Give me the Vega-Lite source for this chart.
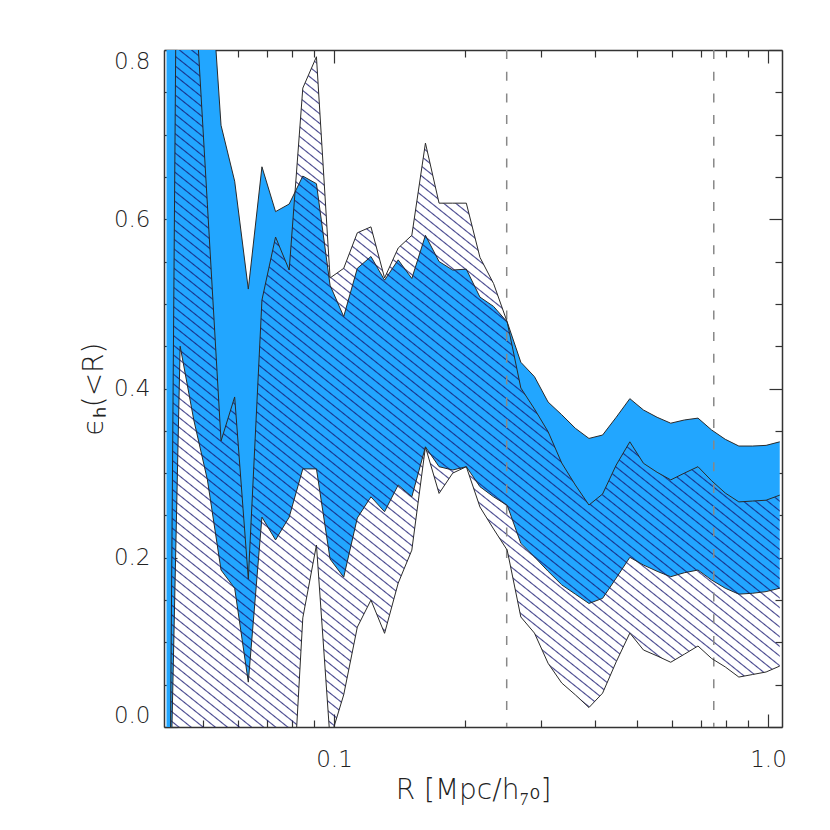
{
  "$schema": "https://vega.github.io/schema/vega-lite/v6.json",
  "width": 618,
  "height": 677,
  "autosize": {"type": "none"},
  "padding": {"left": 164, "top": 50, "right": 48, "bottom": 103},
  "background": "white",
  "config": {
    "view": {"stroke": null},
    "axis": {
      "grid": false,
      "domainColor": "#333333",
      "domainWidth": 1.5,
      "tickColor": "#333333",
      "tickWidth": 1.2,
      "labelFont": "DejaVu Sans",
      "labelFontSize": 23,
      "labelFontWeight": 200,
      "labelColor": "#222222",
      "titleFont": "DejaVu Sans",
      "titleFontSize": 28,
      "titleFontWeight": 200,
      "titleColor": "#222222",
      "zindex": 0
    }
  },
  "datasets": {
    "blue": [
      {"R": 0.04112, "lo": -0.30, "hi": 1.0},
      {"R": 0.04421, "lo": 0.450, "hi": 1.0},
      {"R": 0.04752, "lo": 0.363, "hi": 1.0},
      {"R": 0.05109, "lo": 0.292, "hi": 0.95},
      {"R": 0.05492, "lo": 0.1855, "hi": 0.711},
      {"R": 0.05904, "lo": 0.164, "hi": 0.645},
      {"R": 0.06347, "lo": 0.053, "hi": 0.5175},
      {"R": 0.06823, "lo": 0.248, "hi": 0.662},
      {"R": 0.07334, "lo": 0.221, "hi": 0.609},
      {"R": 0.07884, "lo": 0.248, "hi": 0.618},
      {"R": 0.08475, "lo": 0.305, "hi": 0.651},
      {"R": 0.09111, "lo": 0.305, "hi": 0.642},
      {"R": 0.09794, "lo": 0.1985, "hi": 0.522},
      {"R": 0.10528, "lo": 0.177, "hi": 0.485},
      {"R": 0.11317, "lo": 0.247, "hi": 0.542},
      {"R": 0.12166, "lo": 0.272, "hi": 0.556},
      {"R": 0.13078, "lo": 0.2544, "hi": 0.528},
      {"R": 0.14058, "lo": 0.286, "hi": 0.552},
      {"R": 0.15112, "lo": 0.272, "hi": 0.530},
      {"R": 0.16245, "lo": 0.331, "hi": 0.581},
      {"R": 0.17463, "lo": 0.3076, "hi": 0.550},
      {"R": 0.18772, "lo": 0.3037, "hi": 0.540},
      {"R": 0.20179, "lo": 0.3076, "hi": 0.541},
      {"R": 0.21692, "lo": 0.284, "hi": 0.508},
      {"R": 0.23318, "lo": 0.272, "hi": 0.497},
      {"R": 0.25066, "lo": 0.262, "hi": 0.4786},
      {"R": 0.26946, "lo": 0.217, "hi": 0.431},
      {"R": 0.28966, "lo": 0.201, "hi": 0.414},
      {"R": 0.31137, "lo": 0.184, "hi": 0.384},
      {"R": 0.33472, "lo": 0.168, "hi": 0.369},
      {"R": 0.35981, "lo": 0.157, "hi": 0.353},
      {"R": 0.38679, "lo": 0.146, "hi": 0.341},
      {"R": 0.41579, "lo": 0.152, "hi": 0.345},
      {"R": 0.44696, "lo": 0.176, "hi": 0.366},
      {"R": 0.48047, "lo": 0.2005, "hi": 0.388},
      {"R": 0.51649, "lo": 0.1914, "hi": 0.3746},
      {"R": 0.55521, "lo": 0.184, "hi": 0.366},
      {"R": 0.59684, "lo": 0.1776, "hi": 0.359},
      {"R": 0.64159, "lo": 0.1823, "hi": 0.3628},
      {"R": 0.68969, "lo": 0.1855, "hi": 0.365},
      {"R": 0.74140, "lo": 0.1737, "hi": 0.351},
      {"R": 0.79698, "lo": 0.164, "hi": 0.340},
      {"R": 0.85673, "lo": 0.157, "hi": 0.332},
      {"R": 0.92096, "lo": 0.158, "hi": 0.332},
      {"R": 0.99001, "lo": 0.160, "hi": 0.3328},
      {"R": 1.06423, "lo": 0.164, "hi": 0.337}
    ],
    "hatch": [
      {"R": 0.04200, "lo": -0.05, "hi": -0.01},
      {"R": 0.04325, "lo": -0.1, "hi": 0.85},
      {"R": 0.04421, "lo": -0.1, "hi": 0.90},
      {"R": 0.04752, "lo": -0.1, "hi": 0.895},
      {"R": 0.05109, "lo": -0.1, "hi": 0.617},
      {"R": 0.05492, "lo": -0.1, "hi": 0.338},
      {"R": 0.05904, "lo": -0.1, "hi": 0.390},
      {"R": 0.06347, "lo": -0.1, "hi": 0.175},
      {"R": 0.06823, "lo": -0.1, "hi": 0.5046},
      {"R": 0.07334, "lo": -0.1, "hi": 0.579},
      {"R": 0.07884, "lo": -0.158, "hi": 0.540},
      {"R": 0.08475, "lo": 0.129, "hi": 0.755},
      {"R": 0.09111, "lo": 0.215, "hi": 0.792},
      {"R": 0.09794, "lo": -0.015, "hi": 0.5306},
      {"R": 0.10528, "lo": 0.038, "hi": 0.542},
      {"R": 0.11317, "lo": 0.118, "hi": 0.584},
      {"R": 0.12166, "lo": 0.150, "hi": 0.591},
      {"R": 0.13078, "lo": 0.1107, "hi": 0.5306},
      {"R": 0.14058, "lo": 0.170, "hi": 0.566},
      {"R": 0.15112, "lo": 0.209, "hi": 0.581},
      {"R": 0.16245, "lo": 0.331, "hi": 0.690},
      {"R": 0.17463, "lo": 0.276, "hi": 0.619},
      {"R": 0.18772, "lo": 0.300, "hi": 0.619},
      {"R": 0.20179, "lo": 0.3076, "hi": 0.619},
      {"R": 0.21692, "lo": 0.260, "hi": 0.555},
      {"R": 0.23318, "lo": 0.234, "hi": 0.524},
      {"R": 0.25066, "lo": 0.209, "hi": 0.4786},
      {"R": 0.26946, "lo": 0.130, "hi": 0.4006},
      {"R": 0.28966, "lo": 0.111, "hi": 0.3758},
      {"R": 0.31137, "lo": 0.0753, "hi": 0.349},
      {"R": 0.33472, "lo": 0.052, "hi": 0.312},
      {"R": 0.35981, "lo": 0.038, "hi": 0.286},
      {"R": 0.38679, "lo": 0.023, "hi": 0.2623},
      {"R": 0.41579, "lo": 0.040, "hi": 0.2753},
      {"R": 0.44696, "lo": 0.077, "hi": 0.3096},
      {"R": 0.48047, "lo": 0.111, "hi": 0.337},
      {"R": 0.51649, "lo": 0.091, "hi": 0.3116},
      {"R": 0.55521, "lo": 0.084, "hi": 0.301},
      {"R": 0.59684, "lo": 0.0765, "hi": 0.292},
      {"R": 0.64159, "lo": 0.086, "hi": 0.300},
      {"R": 0.68969, "lo": 0.0957, "hi": 0.3076},
      {"R": 0.74140, "lo": 0.081, "hi": 0.291},
      {"R": 0.79698, "lo": 0.071, "hi": 0.2765},
      {"R": 0.85673, "lo": 0.059, "hi": 0.266},
      {"R": 0.92096, "lo": 0.062, "hi": 0.267},
      {"R": 0.99001, "lo": 0.065, "hi": 0.268},
      {"R": 1.06423, "lo": 0.072, "hi": 0.274}
    ],
    "dash": [{"R": 0.25}, {"R": 0.75}]
  },
  "layer": [
    {
      "data": {"name": "blue"},
      "mark": {"type": "area", "color": "#22a6ff", "opacity": 1, "clip": true},
      "encoding": {
        "x": {
          "field": "R", "type": "quantitative",
          "scale": {"type": "log", "domain": [0.04058, 1.0771], "nice": false},
          "axis": {
            "orient": "bottom",
            "values": [0.05, 0.06, 0.07, 0.08, 0.09, 0.1, 0.2, 0.3, 0.4, 0.5, 0.6, 0.7, 0.8, 0.9, 1],
            "labelExpr": "datum.value == 0.1 ? '0.1' : (datum.value == 1 ? '1.0' : '')",
            "tickSize": {"condition": {"test": "datum.value == 0.1 || datum.value == 1", "value": -13}, "value": -7},
            "labelPadding": 34,
            "labelFlush": false,
            "labelOverlap": false,
            "labelBound": false,
            "title": "R [Mpc/h₇₀]",
            "titlePadding": -1
          }
        },
        "y": {
          "field": "hi", "type": "quantitative",
          "scale": {"domain": [0, 0.8], "nice": false, "zero": false},
          "axis": {
            "orient": "left",
            "values": [0, 0.05, 0.1, 0.15, 0.2, 0.25, 0.3, 0.35, 0.4, 0.45, 0.5, 0.55, 0.6, 0.65, 0.7, 0.75, 0.8],
            "labelExpr": "indexof([0, 0.2, 0.4, 0.6, 0.8], datum.value) >= 0 ? format(datum.value, '.1f') : ''",
            "tickSize": {"condition": {"test": "indexof([0, 0.2, 0.4, 0.6, 0.8], datum.value) >= 0", "value": -13}, "value": -7},
            "labelPadding": 27,
            "labelFlush": true,
            "labelOverlap": false,
            "labelBound": false,
            "title": "ϵₕ(<R)",
            "titlePadding": 5
          }
        },
        "y2": {"field": "lo"}
      }
    },
    {
      "data": {"name": "hatch"},
      "mark": {
        "type": "area", "clip": true, "stroke": null, "fillOpacity": 0.8,
        "fill": {
          "gradient": "linear", "x1": 0, "y1": 1, "x2": 0.64855, "y2": -0.19133,
          "stops": [
            {"offset": 0, "color": "rgba(20,20,110,0)"},
            {"offset": 0.0935, "color": "rgba(20,20,110,0)"}, {"offset": 0.0945, "color": "#14146e"}, {"offset": 0.0955, "color": "rgba(20,20,110,0)"},
            {"offset": 0.1005, "color": "rgba(20,20,110,0)"}, {"offset": 0.1015, "color": "#14146e"}, {"offset": 0.1025, "color": "rgba(20,20,110,0)"},
            {"offset": 0.1075, "color": "rgba(20,20,110,0)"}, {"offset": 0.1085, "color": "#14146e"}, {"offset": 0.1095, "color": "rgba(20,20,110,0)"},
            {"offset": 0.1145, "color": "rgba(20,20,110,0)"}, {"offset": 0.1155, "color": "#14146e"}, {"offset": 0.1165, "color": "rgba(20,20,110,0)"},
            {"offset": 0.1215, "color": "rgba(20,20,110,0)"}, {"offset": 0.1225, "color": "#14146e"}, {"offset": 0.1235, "color": "rgba(20,20,110,0)"},
            {"offset": 0.1285, "color": "rgba(20,20,110,0)"}, {"offset": 0.1295, "color": "#14146e"}, {"offset": 0.1305, "color": "rgba(20,20,110,0)"},
            {"offset": 0.1355, "color": "rgba(20,20,110,0)"}, {"offset": 0.1365, "color": "#14146e"}, {"offset": 0.1375, "color": "rgba(20,20,110,0)"},
            {"offset": 0.1425, "color": "rgba(20,20,110,0)"}, {"offset": 0.1435, "color": "#14146e"}, {"offset": 0.1445, "color": "rgba(20,20,110,0)"},
            {"offset": 0.1495, "color": "rgba(20,20,110,0)"}, {"offset": 0.1505, "color": "#14146e"}, {"offset": 0.1515, "color": "rgba(20,20,110,0)"},
            {"offset": 0.1565, "color": "rgba(20,20,110,0)"}, {"offset": 0.1575, "color": "#14146e"}, {"offset": 0.1585, "color": "rgba(20,20,110,0)"},
            {"offset": 0.1635, "color": "rgba(20,20,110,0)"}, {"offset": 0.1645, "color": "#14146e"}, {"offset": 0.1655, "color": "rgba(20,20,110,0)"},
            {"offset": 0.1705, "color": "rgba(20,20,110,0)"}, {"offset": 0.1715, "color": "#14146e"}, {"offset": 0.1725, "color": "rgba(20,20,110,0)"},
            {"offset": 0.1775, "color": "rgba(20,20,110,0)"}, {"offset": 0.1785, "color": "#14146e"}, {"offset": 0.1795, "color": "rgba(20,20,110,0)"},
            {"offset": 0.1845, "color": "rgba(20,20,110,0)"}, {"offset": 0.1855, "color": "#14146e"}, {"offset": 0.1865, "color": "rgba(20,20,110,0)"},
            {"offset": 0.1915, "color": "rgba(20,20,110,0)"}, {"offset": 0.1925, "color": "#14146e"}, {"offset": 0.1935, "color": "rgba(20,20,110,0)"},
            {"offset": 0.1985, "color": "rgba(20,20,110,0)"}, {"offset": 0.1995, "color": "#14146e"}, {"offset": 0.2005, "color": "rgba(20,20,110,0)"},
            {"offset": 0.2055, "color": "rgba(20,20,110,0)"}, {"offset": 0.2065, "color": "#14146e"}, {"offset": 0.2075, "color": "rgba(20,20,110,0)"},
            {"offset": 0.2125, "color": "rgba(20,20,110,0)"}, {"offset": 0.2135, "color": "#14146e"}, {"offset": 0.2145, "color": "rgba(20,20,110,0)"},
            {"offset": 0.2195, "color": "rgba(20,20,110,0)"}, {"offset": 0.2205, "color": "#14146e"}, {"offset": 0.2215, "color": "rgba(20,20,110,0)"},
            {"offset": 0.2265, "color": "rgba(20,20,110,0)"}, {"offset": 0.2275, "color": "#14146e"}, {"offset": 0.2285, "color": "rgba(20,20,110,0)"},
            {"offset": 0.2335, "color": "rgba(20,20,110,0)"}, {"offset": 0.2345, "color": "#14146e"}, {"offset": 0.2355, "color": "rgba(20,20,110,0)"},
            {"offset": 0.2405, "color": "rgba(20,20,110,0)"}, {"offset": 0.2415, "color": "#14146e"}, {"offset": 0.2425, "color": "rgba(20,20,110,0)"},
            {"offset": 0.2475, "color": "rgba(20,20,110,0)"}, {"offset": 0.2485, "color": "#14146e"}, {"offset": 0.2495, "color": "rgba(20,20,110,0)"},
            {"offset": 0.2545, "color": "rgba(20,20,110,0)"}, {"offset": 0.2555, "color": "#14146e"}, {"offset": 0.2565, "color": "rgba(20,20,110,0)"},
            {"offset": 0.2615, "color": "rgba(20,20,110,0)"}, {"offset": 0.2625, "color": "#14146e"}, {"offset": 0.2635, "color": "rgba(20,20,110,0)"},
            {"offset": 0.2685, "color": "rgba(20,20,110,0)"}, {"offset": 0.2695, "color": "#14146e"}, {"offset": 0.2705, "color": "rgba(20,20,110,0)"},
            {"offset": 0.2755, "color": "rgba(20,20,110,0)"}, {"offset": 0.2765, "color": "#14146e"}, {"offset": 0.2775, "color": "rgba(20,20,110,0)"},
            {"offset": 0.2825, "color": "rgba(20,20,110,0)"}, {"offset": 0.2835, "color": "#14146e"}, {"offset": 0.2845, "color": "rgba(20,20,110,0)"},
            {"offset": 0.2895, "color": "rgba(20,20,110,0)"}, {"offset": 0.2905, "color": "#14146e"}, {"offset": 0.2915, "color": "rgba(20,20,110,0)"},
            {"offset": 0.2965, "color": "rgba(20,20,110,0)"}, {"offset": 0.2975, "color": "#14146e"}, {"offset": 0.2985, "color": "rgba(20,20,110,0)"},
            {"offset": 0.3035, "color": "rgba(20,20,110,0)"}, {"offset": 0.3045, "color": "#14146e"}, {"offset": 0.3055, "color": "rgba(20,20,110,0)"},
            {"offset": 0.3105, "color": "rgba(20,20,110,0)"}, {"offset": 0.3115, "color": "#14146e"}, {"offset": 0.3125, "color": "rgba(20,20,110,0)"},
            {"offset": 0.3175, "color": "rgba(20,20,110,0)"}, {"offset": 0.3185, "color": "#14146e"}, {"offset": 0.3195, "color": "rgba(20,20,110,0)"},
            {"offset": 0.3245, "color": "rgba(20,20,110,0)"}, {"offset": 0.3255, "color": "#14146e"}, {"offset": 0.3265, "color": "rgba(20,20,110,0)"},
            {"offset": 0.3315, "color": "rgba(20,20,110,0)"}, {"offset": 0.3325, "color": "#14146e"}, {"offset": 0.3335, "color": "rgba(20,20,110,0)"},
            {"offset": 0.3385, "color": "rgba(20,20,110,0)"}, {"offset": 0.3395, "color": "#14146e"}, {"offset": 0.3405, "color": "rgba(20,20,110,0)"},
            {"offset": 0.3455, "color": "rgba(20,20,110,0)"}, {"offset": 0.3465, "color": "#14146e"}, {"offset": 0.3475, "color": "rgba(20,20,110,0)"},
            {"offset": 0.3525, "color": "rgba(20,20,110,0)"}, {"offset": 0.3535, "color": "#14146e"}, {"offset": 0.3545, "color": "rgba(20,20,110,0)"},
            {"offset": 0.3595, "color": "rgba(20,20,110,0)"}, {"offset": 0.3605, "color": "#14146e"}, {"offset": 0.3615, "color": "rgba(20,20,110,0)"},
            {"offset": 0.3665, "color": "rgba(20,20,110,0)"}, {"offset": 0.3675, "color": "#14146e"}, {"offset": 0.3685, "color": "rgba(20,20,110,0)"},
            {"offset": 0.3735, "color": "rgba(20,20,110,0)"}, {"offset": 0.3745, "color": "#14146e"}, {"offset": 0.3755, "color": "rgba(20,20,110,0)"},
            {"offset": 0.3805, "color": "rgba(20,20,110,0)"}, {"offset": 0.3815, "color": "#14146e"}, {"offset": 0.3825, "color": "rgba(20,20,110,0)"},
            {"offset": 0.3875, "color": "rgba(20,20,110,0)"}, {"offset": 0.3885, "color": "#14146e"}, {"offset": 0.3895, "color": "rgba(20,20,110,0)"},
            {"offset": 0.3945, "color": "rgba(20,20,110,0)"}, {"offset": 0.3955, "color": "#14146e"}, {"offset": 0.3965, "color": "rgba(20,20,110,0)"},
            {"offset": 0.4015, "color": "rgba(20,20,110,0)"}, {"offset": 0.4025, "color": "#14146e"}, {"offset": 0.4035, "color": "rgba(20,20,110,0)"},
            {"offset": 0.4085, "color": "rgba(20,20,110,0)"}, {"offset": 0.4095, "color": "#14146e"}, {"offset": 0.4105, "color": "rgba(20,20,110,0)"},
            {"offset": 0.4155, "color": "rgba(20,20,110,0)"}, {"offset": 0.4165, "color": "#14146e"}, {"offset": 0.4175, "color": "rgba(20,20,110,0)"},
            {"offset": 0.4225, "color": "rgba(20,20,110,0)"}, {"offset": 0.4235, "color": "#14146e"}, {"offset": 0.4245, "color": "rgba(20,20,110,0)"},
            {"offset": 0.4295, "color": "rgba(20,20,110,0)"}, {"offset": 0.4305, "color": "#14146e"}, {"offset": 0.4315, "color": "rgba(20,20,110,0)"},
            {"offset": 0.4365, "color": "rgba(20,20,110,0)"}, {"offset": 0.4375, "color": "#14146e"}, {"offset": 0.4385, "color": "rgba(20,20,110,0)"},
            {"offset": 0.4435, "color": "rgba(20,20,110,0)"}, {"offset": 0.4445, "color": "#14146e"}, {"offset": 0.4455, "color": "rgba(20,20,110,0)"},
            {"offset": 0.4505, "color": "rgba(20,20,110,0)"}, {"offset": 0.4515, "color": "#14146e"}, {"offset": 0.4525, "color": "rgba(20,20,110,0)"},
            {"offset": 0.4575, "color": "rgba(20,20,110,0)"}, {"offset": 0.4585, "color": "#14146e"}, {"offset": 0.4595, "color": "rgba(20,20,110,0)"},
            {"offset": 0.4645, "color": "rgba(20,20,110,0)"}, {"offset": 0.4655, "color": "#14146e"}, {"offset": 0.4665, "color": "rgba(20,20,110,0)"},
            {"offset": 0.4715, "color": "rgba(20,20,110,0)"}, {"offset": 0.4725, "color": "#14146e"}, {"offset": 0.4735, "color": "rgba(20,20,110,0)"},
            {"offset": 0.4785, "color": "rgba(20,20,110,0)"}, {"offset": 0.4795, "color": "#14146e"}, {"offset": 0.4805, "color": "rgba(20,20,110,0)"},
            {"offset": 0.4855, "color": "rgba(20,20,110,0)"}, {"offset": 0.4865, "color": "#14146e"}, {"offset": 0.4875, "color": "rgba(20,20,110,0)"},
            {"offset": 0.4925, "color": "rgba(20,20,110,0)"}, {"offset": 0.4935, "color": "#14146e"}, {"offset": 0.4945, "color": "rgba(20,20,110,0)"},
            {"offset": 0.4995, "color": "rgba(20,20,110,0)"}, {"offset": 0.5005, "color": "#14146e"}, {"offset": 0.5015, "color": "rgba(20,20,110,0)"},
            {"offset": 0.5065, "color": "rgba(20,20,110,0)"}, {"offset": 0.5075, "color": "#14146e"}, {"offset": 0.5085, "color": "rgba(20,20,110,0)"},
            {"offset": 0.5135, "color": "rgba(20,20,110,0)"}, {"offset": 0.5145, "color": "#14146e"}, {"offset": 0.5155, "color": "rgba(20,20,110,0)"},
            {"offset": 0.5205, "color": "rgba(20,20,110,0)"}, {"offset": 0.5215, "color": "#14146e"}, {"offset": 0.5225, "color": "rgba(20,20,110,0)"},
            {"offset": 0.5275, "color": "rgba(20,20,110,0)"}, {"offset": 0.5285, "color": "#14146e"}, {"offset": 0.5295, "color": "rgba(20,20,110,0)"},
            {"offset": 0.5345, "color": "rgba(20,20,110,0)"}, {"offset": 0.5355, "color": "#14146e"}, {"offset": 0.5365, "color": "rgba(20,20,110,0)"},
            {"offset": 0.5415, "color": "rgba(20,20,110,0)"}, {"offset": 0.5425, "color": "#14146e"}, {"offset": 0.5435, "color": "rgba(20,20,110,0)"},
            {"offset": 0.5485, "color": "rgba(20,20,110,0)"}, {"offset": 0.5495, "color": "#14146e"}, {"offset": 0.5505, "color": "rgba(20,20,110,0)"},
            {"offset": 0.5555, "color": "rgba(20,20,110,0)"}, {"offset": 0.5565, "color": "#14146e"}, {"offset": 0.5575, "color": "rgba(20,20,110,0)"},
            {"offset": 0.5625, "color": "rgba(20,20,110,0)"}, {"offset": 0.5635, "color": "#14146e"}, {"offset": 0.5645, "color": "rgba(20,20,110,0)"},
            {"offset": 0.5695, "color": "rgba(20,20,110,0)"}, {"offset": 0.5705, "color": "#14146e"}, {"offset": 0.5715, "color": "rgba(20,20,110,0)"},
            {"offset": 0.5765, "color": "rgba(20,20,110,0)"}, {"offset": 0.5775, "color": "#14146e"}, {"offset": 0.5785, "color": "rgba(20,20,110,0)"},
            {"offset": 0.5835, "color": "rgba(20,20,110,0)"}, {"offset": 0.5845, "color": "#14146e"}, {"offset": 0.5855, "color": "rgba(20,20,110,0)"},
            {"offset": 0.5905, "color": "rgba(20,20,110,0)"}, {"offset": 0.5915, "color": "#14146e"}, {"offset": 0.5925, "color": "rgba(20,20,110,0)"},
            {"offset": 0.5975, "color": "rgba(20,20,110,0)"}, {"offset": 0.5985, "color": "#14146e"}, {"offset": 0.5995, "color": "rgba(20,20,110,0)"},
            {"offset": 0.6045, "color": "rgba(20,20,110,0)"}, {"offset": 0.6055, "color": "#14146e"}, {"offset": 0.6065, "color": "rgba(20,20,110,0)"},
            {"offset": 0.6115, "color": "rgba(20,20,110,0)"}, {"offset": 0.6125, "color": "#14146e"}, {"offset": 0.6135, "color": "rgba(20,20,110,0)"},
            {"offset": 0.6185, "color": "rgba(20,20,110,0)"}, {"offset": 0.6195, "color": "#14146e"}, {"offset": 0.6205, "color": "rgba(20,20,110,0)"},
            {"offset": 0.6255, "color": "rgba(20,20,110,0)"}, {"offset": 0.6265, "color": "#14146e"}, {"offset": 0.6275, "color": "rgba(20,20,110,0)"},
            {"offset": 0.6325, "color": "rgba(20,20,110,0)"}, {"offset": 0.6335, "color": "#14146e"}, {"offset": 0.6345, "color": "rgba(20,20,110,0)"},
            {"offset": 0.6395, "color": "rgba(20,20,110,0)"}, {"offset": 0.6405, "color": "#14146e"}, {"offset": 0.6415, "color": "rgba(20,20,110,0)"},
            {"offset": 0.6465, "color": "rgba(20,20,110,0)"}, {"offset": 0.6475, "color": "#14146e"}, {"offset": 0.6485, "color": "rgba(20,20,110,0)"},
            {"offset": 0.6535, "color": "rgba(20,20,110,0)"}, {"offset": 0.6545, "color": "#14146e"}, {"offset": 0.6555, "color": "rgba(20,20,110,0)"},
            {"offset": 0.6605, "color": "rgba(20,20,110,0)"}, {"offset": 0.6615, "color": "#14146e"}, {"offset": 0.6625, "color": "rgba(20,20,110,0)"},
            {"offset": 0.6675, "color": "rgba(20,20,110,0)"}, {"offset": 0.6685, "color": "#14146e"}, {"offset": 0.6695, "color": "rgba(20,20,110,0)"},
            {"offset": 0.6745, "color": "rgba(20,20,110,0)"}, {"offset": 0.6755, "color": "#14146e"}, {"offset": 0.6765, "color": "rgba(20,20,110,0)"},
            {"offset": 0.6815, "color": "rgba(20,20,110,0)"}, {"offset": 0.6825, "color": "#14146e"}, {"offset": 0.6835, "color": "rgba(20,20,110,0)"},
            {"offset": 0.6885, "color": "rgba(20,20,110,0)"}, {"offset": 0.6895, "color": "#14146e"}, {"offset": 0.6905, "color": "rgba(20,20,110,0)"},
            {"offset": 0.6955, "color": "rgba(20,20,110,0)"}, {"offset": 0.6965, "color": "#14146e"}, {"offset": 0.6975, "color": "rgba(20,20,110,0)"},
            {"offset": 0.7025, "color": "rgba(20,20,110,0)"}, {"offset": 0.7035, "color": "#14146e"}, {"offset": 0.7045, "color": "rgba(20,20,110,0)"},
            {"offset": 0.7095, "color": "rgba(20,20,110,0)"}, {"offset": 0.7105, "color": "#14146e"}, {"offset": 0.7115, "color": "rgba(20,20,110,0)"},
            {"offset": 0.7165, "color": "rgba(20,20,110,0)"}, {"offset": 0.7175, "color": "#14146e"}, {"offset": 0.7185, "color": "rgba(20,20,110,0)"},
            {"offset": 0.7235, "color": "rgba(20,20,110,0)"}, {"offset": 0.7245, "color": "#14146e"}, {"offset": 0.7255, "color": "rgba(20,20,110,0)"},
            {"offset": 0.7305, "color": "rgba(20,20,110,0)"}, {"offset": 0.7315, "color": "#14146e"}, {"offset": 0.7325, "color": "rgba(20,20,110,0)"},
            {"offset": 0.7375, "color": "rgba(20,20,110,0)"}, {"offset": 0.7385, "color": "#14146e"}, {"offset": 0.7395, "color": "rgba(20,20,110,0)"},
            {"offset": 0.7445, "color": "rgba(20,20,110,0)"}, {"offset": 0.7455, "color": "#14146e"}, {"offset": 0.7465, "color": "rgba(20,20,110,0)"},
            {"offset": 0.7515, "color": "rgba(20,20,110,0)"}, {"offset": 0.7525, "color": "#14146e"}, {"offset": 0.7535, "color": "rgba(20,20,110,0)"},
            {"offset": 0.7585, "color": "rgba(20,20,110,0)"}, {"offset": 0.7595, "color": "#14146e"}, {"offset": 0.7605, "color": "rgba(20,20,110,0)"},
            {"offset": 0.7655, "color": "rgba(20,20,110,0)"}, {"offset": 0.7665, "color": "#14146e"}, {"offset": 0.7675, "color": "rgba(20,20,110,0)"},
            {"offset": 0.7725, "color": "rgba(20,20,110,0)"}, {"offset": 0.7735, "color": "#14146e"}, {"offset": 0.7745, "color": "rgba(20,20,110,0)"},
            {"offset": 0.7795, "color": "rgba(20,20,110,0)"}, {"offset": 0.7805, "color": "#14146e"}, {"offset": 0.7815, "color": "rgba(20,20,110,0)"},
            {"offset": 0.7865, "color": "rgba(20,20,110,0)"}, {"offset": 0.7875, "color": "#14146e"}, {"offset": 0.7885, "color": "rgba(20,20,110,0)"},
            {"offset": 0.7935, "color": "rgba(20,20,110,0)"}, {"offset": 0.7945, "color": "#14146e"}, {"offset": 0.7955, "color": "rgba(20,20,110,0)"},
            {"offset": 0.8005, "color": "rgba(20,20,110,0)"}, {"offset": 0.8015, "color": "#14146e"}, {"offset": 0.8025, "color": "rgba(20,20,110,0)"},
            {"offset": 0.8075, "color": "rgba(20,20,110,0)"}, {"offset": 0.8085, "color": "#14146e"}, {"offset": 0.8095, "color": "rgba(20,20,110,0)"},
            {"offset": 0.8145, "color": "rgba(20,20,110,0)"}, {"offset": 0.8155, "color": "#14146e"}, {"offset": 0.8165, "color": "rgba(20,20,110,0)"},
            {"offset": 0.8215, "color": "rgba(20,20,110,0)"}, {"offset": 0.8225, "color": "#14146e"}, {"offset": 0.8235, "color": "rgba(20,20,110,0)"},
            {"offset": 0.8285, "color": "rgba(20,20,110,0)"}, {"offset": 0.8295, "color": "#14146e"}, {"offset": 0.8305, "color": "rgba(20,20,110,0)"},
            {"offset": 0.8355, "color": "rgba(20,20,110,0)"}, {"offset": 0.8365, "color": "#14146e"}, {"offset": 0.8375, "color": "rgba(20,20,110,0)"},
            {"offset": 0.8425, "color": "rgba(20,20,110,0)"}, {"offset": 0.8435, "color": "#14146e"}, {"offset": 0.8445, "color": "rgba(20,20,110,0)"},
            {"offset": 0.8495, "color": "rgba(20,20,110,0)"}, {"offset": 0.8505, "color": "#14146e"}, {"offset": 0.8515, "color": "rgba(20,20,110,0)"},
            {"offset": 0.8565, "color": "rgba(20,20,110,0)"}, {"offset": 0.8575, "color": "#14146e"}, {"offset": 0.8585, "color": "rgba(20,20,110,0)"},
            {"offset": 0.8635, "color": "rgba(20,20,110,0)"}, {"offset": 0.8645, "color": "#14146e"}, {"offset": 0.8655, "color": "rgba(20,20,110,0)"},
            {"offset": 0.8705, "color": "rgba(20,20,110,0)"}, {"offset": 0.8715, "color": "#14146e"}, {"offset": 0.8725, "color": "rgba(20,20,110,0)"},
            {"offset": 0.8775, "color": "rgba(20,20,110,0)"}, {"offset": 0.8785, "color": "#14146e"}, {"offset": 0.8795, "color": "rgba(20,20,110,0)"},
            {"offset": 0.8845, "color": "rgba(20,20,110,0)"}, {"offset": 0.8855, "color": "#14146e"}, {"offset": 0.8865, "color": "rgba(20,20,110,0)"},
            {"offset": 0.8915, "color": "rgba(20,20,110,0)"}, {"offset": 0.8925, "color": "#14146e"}, {"offset": 0.8935, "color": "rgba(20,20,110,0)"},
            {"offset": 0.8985, "color": "rgba(20,20,110,0)"}, {"offset": 0.8995, "color": "#14146e"}, {"offset": 0.9005, "color": "rgba(20,20,110,0)"},
            {"offset": 0.9055, "color": "rgba(20,20,110,0)"}, {"offset": 0.9065, "color": "#14146e"}, {"offset": 0.9075, "color": "rgba(20,20,110,0)"},
            {"offset": 0.9125, "color": "rgba(20,20,110,0)"}, {"offset": 0.9135, "color": "#14146e"}, {"offset": 0.9145, "color": "rgba(20,20,110,0)"},
            {"offset": 0.9195, "color": "rgba(20,20,110,0)"}, {"offset": 0.9205, "color": "#14146e"}, {"offset": 0.9215, "color": "rgba(20,20,110,0)"},
            {"offset": 0.9265, "color": "rgba(20,20,110,0)"}, {"offset": 0.9275, "color": "#14146e"}, {"offset": 0.9285, "color": "rgba(20,20,110,0)"},
            {"offset": 0.9335, "color": "rgba(20,20,110,0)"}, {"offset": 0.9345, "color": "#14146e"}, {"offset": 0.9355, "color": "rgba(20,20,110,0)"},
            {"offset": 0.9405, "color": "rgba(20,20,110,0)"}, {"offset": 0.9415, "color": "#14146e"}, {"offset": 0.9425, "color": "rgba(20,20,110,0)"},
            {"offset": 0.9475, "color": "rgba(20,20,110,0)"}, {"offset": 0.9485, "color": "#14146e"}, {"offset": 0.9495, "color": "rgba(20,20,110,0)"},
            {"offset": 1, "color": "rgba(20,20,110,0)"}
          ]
        }
      },
      "encoding": {
        "x": {
          "field": "R", "type": "quantitative",
          "scale": {"type": "log", "domain": [0.04058, 1.0771], "nice": false},
          "axis": {
            "orient": "top",
            "values": [0.05, 0.06, 0.07, 0.08, 0.09, 0.1, 0.2, 0.3, 0.4, 0.5, 0.6, 0.7, 0.8, 0.9, 1],
            "labels": false,
            "tickSize": {"condition": {"test": "datum.value == 0.1 || datum.value == 1", "value": -13}, "value": -7},
            "title": null
          }
        },
        "y": {
          "field": "hi", "type": "quantitative",
          "scale": {"domain": [0, 0.8], "nice": false, "zero": false},
          "axis": {
            "orient": "right",
            "values": [0, 0.05, 0.1, 0.15, 0.2, 0.25, 0.3, 0.35, 0.4, 0.45, 0.5, 0.55, 0.6, 0.65, 0.7, 0.75, 0.8],
            "labels": false,
            "tickSize": {"condition": {"test": "indexof([0, 0.2, 0.4, 0.6, 0.8], datum.value) >= 0", "value": -13}, "value": -7},
            "title": null
          }
        },
        "y2": {"field": "lo"}
      }
    },
    {
      "data": {"name": "dash"},
      "mark": {"type": "rule", "color": "#888888", "strokeWidth": 1.5, "strokeDash": [9, 12.7]},
      "encoding": {
        "x": {"field": "R", "type": "quantitative", "scale": {"type": "log", "domain": [0.04058, 1.0771], "nice": false}, "axis": null}
      }
    },
    {
      "data": {"name": "blue"},
      "mark": {"type": "line", "color": "#2a2a2a", "strokeWidth": 1, "clip": true},
      "encoding": {
        "x": {"field": "R", "type": "quantitative", "scale": {"type": "log", "domain": [0.04058, 1.0771], "nice": false}, "axis": null},
        "y": {"field": "hi", "type": "quantitative", "scale": {"domain": [0, 0.8], "nice": false, "zero": false}, "axis": null}
      }
    },
    {
      "data": {"name": "blue"},
      "mark": {"type": "line", "color": "#2a2a2a", "strokeWidth": 1, "clip": true},
      "encoding": {
        "x": {"field": "R", "type": "quantitative", "scale": {"type": "log", "domain": [0.04058, 1.0771], "nice": false}, "axis": null},
        "y": {"field": "lo", "type": "quantitative", "scale": {"domain": [0, 0.8], "nice": false, "zero": false}, "axis": null}
      }
    },
    {
      "data": {"name": "hatch"},
      "mark": {"type": "line", "color": "#2a2a2a", "strokeWidth": 1, "clip": true},
      "encoding": {
        "x": {"field": "R", "type": "quantitative", "scale": {"type": "log", "domain": [0.04058, 1.0771], "nice": false}, "axis": null},
        "y": {"field": "hi", "type": "quantitative", "scale": {"domain": [0, 0.8], "nice": false, "zero": false}, "axis": null}
      }
    },
    {
      "data": {"name": "hatch"},
      "mark": {"type": "line", "color": "#2a2a2a", "strokeWidth": 1, "clip": true},
      "encoding": {
        "x": {"field": "R", "type": "quantitative", "scale": {"type": "log", "domain": [0.04058, 1.0771], "nice": false}, "axis": null},
        "y": {"field": "lo", "type": "quantitative", "scale": {"domain": [0, 0.8], "nice": false, "zero": false}, "axis": null}
      }
    }
  ],
  "resolve": {"axis": {"x": "independent", "y": "independent"}}
}
